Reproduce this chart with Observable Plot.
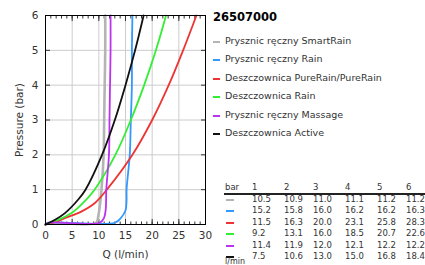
<!DOCTYPE html>
<html><head><meta charset="utf-8">
<script src="https://cdn.jsdelivr.net/npm/d3@7"></script>
<script src="https://cdn.jsdelivr.net/npm/@observablehq/plot@0.6"></script>
<style>
body{margin:0;background:#fff;}
#wrap{position:relative;width:425px;height:265px;overflow:hidden;font-family:"DejaVu Sans",sans-serif;}
#wrap svg{position:absolute;left:0;top:0;}
.t{position:absolute;white-space:nowrap;color:#333;}
</style></head>
<body><div id="wrap"></div>
<script>
const title = "26507000";
const seriesNames = ["Prysznic ręczny SmartRain","Prysznic ręczny Rain","Deszczownica PureRain/PureRain","Deszczownica Rain","Prysznic ręczny Massage","Deszczownica Active"];
const seriesColors = ["#b4b4b4","#3399ff","#ee3333","#33ee33","#bb33ee","#111111"];
const seriesWidths = [2.6,1.8,1.8,1.8,1.8,1.8];
const tableBar = [1,2,3,4,5,6];
const tableSmartRain = [10.5,10.9,11.0,11.1,11.2,11.2];
const tableRainHand = [15.2,15.8,16.0,16.2,16.2,16.3];
const tablePureRain = [11.5,16.3,20.0,23.1,25.8,28.3];
const tableRainHead = [9.2,13.1,16.0,18.5,20.7,22.6];
const tableMassage = [11.4,11.9,12.0,12.1,12.2,12.2];
const tableActive = [7.5,10.6,13.0,15.0,16.8,18.4];
const tableValues = [tableSmartRain,tableRainHand,tablePureRain,tableRainHead,tableMassage,tableActive];
// low-pressure readings [Q, P] below 1 bar
const lowSmartRain = [[0,0],[0.6,0.05],[9.5,0.05],[9.9,0.25],[10.2,0.55]];
const lowRainHand = [[0,0],[0.6,0.05],[13.0,0.05],[14.2,0.2],[15.0,0.4],[15.2,0.7]];
const lowPureRain = [[0,0],[1.7,0.06],[3.6,0.18],[6.7,0.37],[9.2,0.61]];
const lowRainHead = [[0,0],[2.3,0.13],[4.8,0.32],[7.6,0.71]];
const lowMassage = [[0,0],[0.6,0.05],[10.2,0.05],[11.0,0.2],[11.3,0.45]];
const lowActive = [[0,0],[1.7,0.13],[3.6,0.32],[6.1,0.71]];
const lows = [lowSmartRain,lowRainHand,lowPureRain,lowRainHead,lowMassage,lowActive];
const xTicks = [0,5,10,15,20,25,30];
const yTicks = [0,1,2,3,4,5,6];

const series = seriesNames.map((name,i)=>({
  name, color: seriesColors[i], w: seriesWidths[i],
  pts: lows[i].map(([q,p])=>({q,p})).concat(tableBar.map((b,j)=>({q:tableValues[i][j],p:b})))
}));

const minor = d3.range(0,31,1);
const marks = [
  Plot.gridX(xTicks,{stroke:"#ccc",strokeOpacity:1}),
  Plot.gridY(yTicks,{stroke:"#ccc",strokeOpacity:1}),
  Plot.axisX(minor,{anchor:"bottom",tickSize:-2.5,text:null,label:null}),
  Plot.axisX(minor,{anchor:"top",tickSize:-2.5,text:null,label:null}),
  Plot.axisX(xTicks,{anchor:"bottom",tickSize:-5,text:null,label:null}),
  Plot.axisX(xTicks,{anchor:"top",tickSize:-5,text:null,label:null}),
  Plot.axisY(yTicks,{anchor:"left",tickSize:-5,text:null,label:null}),
  Plot.axisY(yTicks,{anchor:"right",tickSize:-5,text:null,label:null}),
  Plot.axisX(xTicks,{anchor:"bottom",tickSize:0,tickPadding:7,label:"Q (l/min)",labelAnchor:"center",labelArrow:"none",labelOffset:33,fill:"#333"}),
  Plot.axisY(yTicks,{anchor:"left",tickSize:0,tickPadding:7,label:"Pressure (bar)",labelAnchor:"center",labelArrow:"none",labelOffset:30,fill:"#333"}),
  ...series.map(s=>Plot.line(s.pts,{x:"q",y:"p",stroke:s.color,strokeWidth:s.w,curve:"catmull-rom"})),
  Plot.frame({stroke:"#000",strokeWidth:1})
];

const chart = Plot.plot({
  width:425,height:265,
  marginLeft:45,marginRight:220,marginTop:15,marginBottom:41,
  x:{domain:[0,30]},
  y:{domain:[0,6]},
  style:{fontFamily:"DejaVu Sans",fontSize:"10.5px",color:"#333",background:"#fff"},
  marks
});
const wrap = document.getElementById("wrap");
wrap.appendChild(chart);

function txt(s,x,y,css){const d=document.createElement("div");d.className="t";d.textContent=s;d.style.left=x+"px";d.style.top=y+"px";Object.assign(d.style,css||{});wrap.appendChild(d);return d;}
function sw(x,y,w,h,c){const d=document.createElement("div");d.style.cssText=`position:absolute;left:${x}px;top:${y}px;width:${w}px;height:${h}px;background:${c}`;wrap.appendChild(d);}

txt(title,213,10,{fontSize:"11.5px",fontWeight:"bold",color:"#000"});
seriesNames.forEach((n,i)=>{
  const y = 42 + i*18.4;
  sw(213,y-1,7,2,seriesColors[i]);
  txt(n,225,y-7,{fontSize:"9.5px"});
});
const colX=[252,284,313,345,377,406];
txt("bar",225,182,{fontSize:"8.5px"});
tableBar.forEach((b,j)=>txt(String(b),colX[j],182,{fontSize:"8.5px"}));
sw(224,193,201,2,"#222");
tableValues.forEach((row,i)=>{
  const y = 200 + i*11.4;
  sw(226,y-1,8,2,seriesColors[i]);
  row.forEach((v,j)=>txt(v.toFixed(1),colX[j],y-6,{fontSize:"8.5px"}));
});
txt("l/min",225,257,{fontSize:"8px"});
</script></body></html>
